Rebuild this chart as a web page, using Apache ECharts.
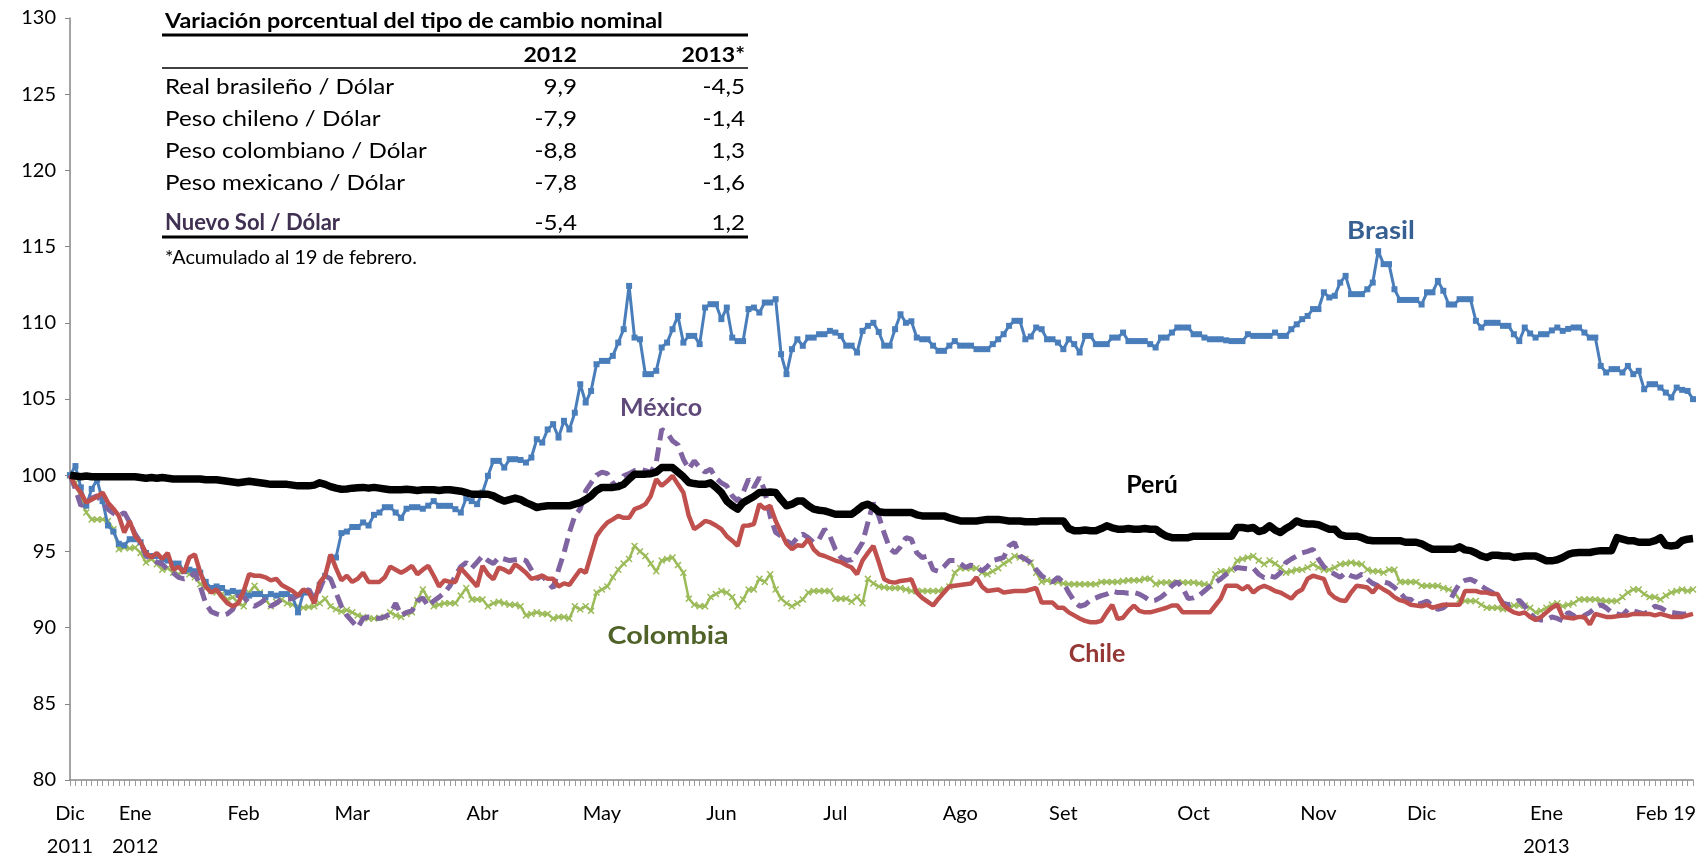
<!DOCTYPE html>
<html>
<head>
<meta charset="utf-8">
<script src="https://cdn.jsdelivr.net/npm/echarts/dist/echarts.min.js"></script>
<style>
html,body{margin:0;padding:0;background:#fff;}
#chart{width:1698px;height:857px;}
</style>
</head>
<body>
<div id="chart"></div>
<script>
// ---------- DATA ----------
const brasil = [
100.0,100.6,99.2,98.0,99.1,99.7,98.3,96.7,96.3,95.5,
95.4,95.8,95.8,95.6,94.9,94.7,94.7,94.5,94.4,94.2,
94.2,93.7,93.8,93.7,93.6,93.0,92.6,92.7,92.6,92.3,
92.4,92.3,92.3,92.1,92.2,92.2,92.0,92.2,92.1,92.2,
92.2,92.0,91.0,92.3,92.3,92.0,92.8,93.4,94.5,94.6,
96.2,96.3,96.6,96.6,96.9,96.7,97.4,97.55,97.9,97.9,
97.55,97.2,97.8,97.9,97.9,97.8,98.0,98.3,97.99,97.99,
97.99,97.77,97.55,98.5,98.3,98.1,98.86,99.96,100.94,100.94,
100.5,101.05,101.05,101.0,100.83,101.16,102.36,102.14,103.0,103.35,
102.47,103.57,103.0,104.1,105.97,104.77,105.53,107.28,107.5,107.5,
107.83,108.7,109.58,112.42,109.03,108.92,106.63,106.63,106.85,108.38,
108.7,109.58,110.45,108.7,109.14,109.14,108.6,111.0,111.22,111.22,
110.24,111.0,109.03,108.8,108.8,110.9,111.0,110.67,111.33,111.33,
111.55,107.94,106.63,108.27,108.92,108.49,109.03,109.03,109.25,109.25,
109.47,109.36,109.14,108.5,108.5,108.05,109.47,109.8,110.0,109.4,
108.5,108.5,109.58,110.56,110.0,110.1,109.03,108.92,108.92,108.5,
108.16,108.16,108.5,108.8,108.5,108.5,108.5,108.27,108.27,108.27,
108.6,108.92,109.25,109.8,110.13,110.13,108.92,109.1,109.69,109.58,
108.92,108.92,108.7,108.27,108.92,108.6,108.05,109.14,109.14,108.6,
108.6,108.6,109.03,109.03,109.36,108.8,108.8,108.8,108.8,108.6,
108.38,109.03,109.03,109.36,109.69,109.69,109.69,109.25,109.25,109.03,
108.92,108.92,108.92,108.85,108.8,108.8,108.8,109.25,109.14,109.14,
109.14,109.14,109.36,109.14,109.14,109.58,109.9,110.24,110.45,110.9,
110.9,112.0,111.66,111.77,112.64,113.08,111.88,111.88,111.88,112.2,
112.64,114.7,113.85,113.85,112.2,111.5,111.5,111.5,111.5,111.2,
112.0,112.0,112.75,112.1,111.2,111.2,111.55,111.55,111.55,110.13,
109.69,110.0,110.0,110.0,109.8,109.8,109.25,108.8,109.69,109.3,
109.03,109.25,109.25,109.5,109.69,109.47,109.6,109.69,109.69,109.36,
109.03,109.03,107.17,106.74,106.96,106.96,106.74,107.17,106.63,106.85,
105.64,105.97,105.97,105.75,105.42,105.1,105.75,105.6,105.53,104.99
];
const chile = [
100.0,99.3,98.86,98.2,98.4,98.6,98.86,98.2,97.8,97.33,
96.24,97.0,96.0,95.6,94.9,94.6,94.9,94.5,94.9,93.8,
94.0,93.6,94.6,94.8,93.6,92.7,92.3,92.5,92.0,91.6,
91.4,91.6,92.4,93.5,93.4,93.4,93.3,93.1,93.2,92.8,
92.6,92.4,92.1,92.5,92.3,91.6,92.96,93.4,94.8,93.9,
93.1,93.4,93.0,93.2,93.6,93.0,93.0,93.0,93.3,94.0,
93.8,93.6,93.8,94.05,93.5,93.8,94.05,93.4,92.7,93.1,
93.0,93.0,93.9,93.5,93.1,92.7,94.05,93.5,93.17,93.94,
93.8,93.6,94.16,93.9,93.6,93.2,93.3,93.4,93.2,93.2,
92.7,92.9,92.8,93.3,93.8,93.6,94.8,96.0,96.5,96.9,
97.1,97.33,97.2,97.2,97.77,97.9,98.1,98.64,99.74,99.3,
99.6,99.96,99.4,98.86,97.33,96.46,96.7,97.0,96.9,96.7,
96.46,96.0,95.7,95.36,96.68,96.7,96.8,98.1,97.8,97.99,
97.0,96.24,95.5,95.14,95.4,95.36,95.8,95.14,94.8,94.7,
94.55,94.4,94.3,94.1,93.94,93.5,94.4,94.9,95.36,94.3,
93.17,93.0,92.95,93.06,93.1,93.17,92.3,91.95,91.7,91.45,
91.9,92.3,92.7,92.75,92.8,92.85,92.9,93.3,92.7,92.4,
92.45,92.5,92.3,92.35,92.4,92.4,92.4,92.5,92.6,91.64,
91.64,91.64,91.3,91.3,91.0,90.8,90.6,90.44,90.35,90.35,
90.44,91.0,91.5,90.57,90.65,91.1,91.45,91.1,91.0,91.0,
91.1,91.2,91.3,91.45,91.45,91.0,91.0,91.0,91.0,91.0,
91.0,91.45,91.9,92.74,92.74,92.74,92.5,92.74,92.3,92.6,
92.74,92.6,92.4,92.3,92.1,91.9,92.3,92.5,93.2,93.4,
93.3,93.2,92.3,91.97,91.8,91.75,92.3,92.74,92.7,92.63,
92.3,92.74,92.5,92.3,92.0,91.8,91.7,91.5,91.45,91.4,
91.5,91.3,91.4,91.5,91.5,91.5,91.5,92.4,92.4,92.4,
92.3,92.3,92.2,92.2,91.5,91.2,91.0,90.9,91.0,90.7,
90.5,90.7,91.0,91.3,91.5,90.7,90.65,90.6,90.7,90.7,
90.2,90.9,90.8,90.7,90.7,90.75,90.8,90.8,90.9,90.9,
90.9,90.9,90.8,90.9,90.8,90.7,90.7,90.7,90.8,90.9
];
const colombia = [
100.0,99.5,98.5,97.55,97.1,97.1,97.1,97.0,96.46,95.14,
95.25,95.2,95.25,94.9,94.27,94.5,94.16,93.8,93.9,93.6,
93.5,93.8,93.5,93.3,92.85,92.6,92.4,92.3,92.2,91.85,
92.0,91.6,91.4,92.3,92.74,92.3,91.85,91.4,91.7,91.85,
91.6,91.5,91.4,91.3,91.35,91.4,91.6,91.9,91.4,91.2,
91.05,91.15,91.0,90.8,90.7,90.6,90.6,90.65,90.7,91.0,
90.8,90.7,90.9,91.0,91.8,92.5,91.9,91.4,91.5,91.6,
91.6,91.6,92.1,92.6,91.85,91.85,91.85,91.4,91.6,91.7,
91.6,91.5,91.5,91.4,90.8,90.9,91.0,90.9,90.9,90.6,
90.7,90.7,90.6,91.4,91.2,91.4,91.1,92.3,92.5,92.7,
93.3,93.8,94.2,94.5,95.36,95.0,94.7,94.2,93.7,94.4,
94.5,94.6,94.1,93.6,91.9,91.5,91.4,91.4,92.0,92.2,
92.4,92.3,92.0,91.4,91.85,92.5,92.5,93.2,93.0,93.5,
92.5,91.9,91.6,91.4,91.6,91.85,92.3,92.4,92.4,92.4,
92.4,91.9,91.9,91.9,91.7,92.0,91.6,93.2,92.9,92.7,
92.65,92.6,92.6,92.6,92.5,92.4,92.4,92.4,92.4,92.4,
92.4,92.5,92.7,93.6,93.9,93.9,93.9,93.9,93.6,93.5,
93.7,93.9,94.2,94.4,94.7,94.6,94.5,94.27,93.6,93.0,
93.1,93.0,93.0,92.9,92.85,92.85,92.85,92.85,92.85,92.85,
93.0,93.0,93.0,93.0,93.05,93.1,93.1,93.1,93.2,93.2,
92.85,92.96,92.96,92.96,92.96,92.96,92.96,92.96,92.9,92.85,
92.74,93.5,93.7,93.7,93.8,94.4,94.5,94.6,94.7,94.4,
94.16,94.4,94.2,93.94,93.6,93.7,93.8,93.8,93.94,94.16,
93.94,93.8,93.8,93.94,94.16,94.2,94.27,94.2,94.16,93.8,
93.7,93.7,93.6,93.8,93.8,93.0,93.0,93.0,93.0,92.74,
92.74,92.74,92.74,92.6,92.5,92.3,91.85,91.75,91.75,91.75,
91.5,91.3,91.3,91.3,91.2,91.3,91.45,91.45,91.45,91.3,
91.0,91.1,91.3,91.5,91.6,91.4,91.5,91.6,91.85,91.85,
91.85,91.85,91.8,91.75,91.75,91.75,92.0,92.3,92.5,92.5,
92.2,92.0,92.0,91.85,92.1,92.3,92.4,92.5,92.4,92.5
];
const mexico = [
100.0,99.1,98.0,98.2,98.5,98.64,98.2,97.77,97.5,97.33,
97.55,96.9,96.13,95.6,94.7,94.5,94.3,94.16,93.8,93.6,
93.3,93.2,93.3,93.6,92.7,91.6,91.05,90.9,90.8,90.9,
91.2,92.07,92.0,91.6,91.4,91.6,91.85,91.4,91.6,91.85,
91.9,91.9,92.1,92.3,92.5,91.85,92.5,93.4,93.2,92.3,
91.4,90.8,90.4,90.0,90.6,90.7,90.65,90.6,90.7,90.9,
91.6,90.8,91.0,91.1,91.75,91.95,91.4,91.75,92.0,92.3,
92.74,93.4,94.0,94.27,93.9,94.3,94.7,94.4,94.2,94.6,
94.5,94.4,94.45,94.5,94.4,93.8,93.2,93.4,92.96,92.6,
93.8,94.9,96.24,97.33,97.8,98.97,99.5,100.0,100.2,100.1,
99.5,99.2,99.96,100.1,100.3,100.4,100.3,100.2,100.83,103.0,
102.8,102.25,102.0,101.05,100.4,100.94,100.5,100.2,100.4,99.8,
99.5,99.3,98.64,98.3,98.86,99.74,99.2,99.85,98.97,97.3,
96.24,96.0,95.7,95.47,95.9,96.13,95.9,95.58,95.8,96.46,
96.0,95.14,94.6,94.4,94.45,95.0,95.58,96.9,98.2,97.3,
96.2,95.2,94.9,95.3,95.9,95.8,94.9,94.6,94.7,93.8,
93.7,94.0,94.4,94.4,94.2,93.94,94.1,94.0,93.7,94.0,
94.4,94.5,94.6,95.36,95.58,94.7,94.5,94.27,93.8,93.4,
93.17,93.0,93.3,92.96,92.3,91.75,91.4,91.5,91.8,91.95,
92.1,92.2,92.4,92.3,92.3,92.25,92.3,92.2,92.0,91.75,
91.8,92.0,92.3,92.74,93.0,92.6,91.9,91.95,92.1,92.4,
92.7,92.96,93.2,93.5,93.7,93.94,93.9,93.85,93.9,93.5,
93.27,93.4,93.3,93.6,94.27,94.5,94.7,94.9,95.0,95.14,
94.5,94.0,93.7,93.5,93.3,93.6,93.4,93.3,93.5,93.17,
92.9,92.74,93.0,92.9,92.63,92.3,91.9,91.85,91.5,91.6,
91.75,91.4,91.2,91.3,91.6,92.3,92.9,93.1,93.17,93.0,
92.74,92.5,92.3,92.1,91.6,91.5,91.6,91.8,91.4,90.9,
90.6,90.5,90.5,90.7,90.6,90.44,91.0,90.8,90.44,90.8,
91.0,91.3,91.5,91.3,91.0,90.9,90.8,91.2,91.1,91.0,
90.9,91.1,91.4,91.3,91.1,91.0,90.95,90.9,90.9,90.85
];
const peru = [
100.0,99.95,99.9,99.95,99.9,99.9,99.9,99.9,99.9,99.9,
99.9,99.9,99.9,99.85,99.8,99.85,99.8,99.85,99.8,99.75,
99.75,99.75,99.75,99.75,99.75,99.7,99.7,99.7,99.65,99.6,
99.55,99.5,99.55,99.6,99.55,99.5,99.45,99.4,99.4,99.4,
99.4,99.35,99.3,99.3,99.3,99.35,99.5,99.4,99.25,99.15,
99.08,99.1,99.15,99.18,99.2,99.15,99.2,99.15,99.1,99.05,
99.04,99.05,99.08,99.05,99.0,99.04,99.04,99.04,99.0,99.04,
99.04,99.0,98.95,98.85,98.75,98.75,98.75,98.75,98.64,98.45,
98.3,98.4,98.5,98.4,98.2,98.05,97.88,97.95,97.99,97.99,
97.99,97.99,97.99,98.1,98.2,98.4,98.64,99.0,99.2,99.2,
99.2,99.25,99.4,99.74,100.07,100.07,100.07,100.1,100.2,100.5,
100.5,100.5,100.2,99.9,99.52,99.45,99.4,99.4,99.5,99.2,
98.86,98.3,98.0,97.77,98.2,98.4,98.6,98.86,98.86,98.9,
98.86,98.4,97.99,98.1,98.3,98.3,98.0,97.77,97.7,97.66,
97.55,97.44,97.44,97.44,97.44,97.7,97.99,98.1,97.9,97.6,
97.55,97.55,97.55,97.55,97.55,97.55,97.4,97.33,97.33,97.33,
97.33,97.33,97.2,97.1,97.0,97.0,97.0,97.0,97.05,97.1,
97.1,97.1,97.05,97.0,97.0,97.0,96.95,96.94,96.94,97.0,
97.0,97.0,97.0,97.0,96.5,96.35,96.35,96.4,96.35,96.35,
96.5,96.68,96.55,96.46,96.46,96.5,96.46,96.46,96.5,96.46,
96.46,96.2,96.0,95.9,95.9,95.9,95.9,96.0,96.0,96.0,
96.0,96.0,96.0,96.0,96.0,96.57,96.57,96.5,96.57,96.3,
96.4,96.68,96.4,96.24,96.5,96.7,97.0,96.85,96.8,96.8,
96.75,96.6,96.46,96.46,96.1,96.0,96.0,96.0,95.9,95.75,
95.7,95.7,95.7,95.7,95.7,95.7,95.6,95.6,95.6,95.5,
95.3,95.14,95.14,95.14,95.14,95.14,95.3,95.1,95.05,94.9,
94.7,94.6,94.75,94.75,94.7,94.7,94.6,94.65,94.7,94.7,
94.7,94.55,94.38,94.38,94.45,94.6,94.8,94.9,94.93,94.93,
94.93,95.0,95.05,95.05,95.05,95.9,95.8,95.7,95.7,95.6,
95.6,95.6,95.7,95.9,95.4,95.36,95.4,95.7,95.8,95.84
];

// x-axis tick labels: [category index, label]
const monthLabels = [
  [0,'Dic\n2011'],[12,'Ene\n2012'],[32,'Feb'],[52,'Mar'],[76,'Abr'],[98,'May'],
  [120,'Jun'],[141,'Jul'],[164,'Ago'],[183,'Set'],[207,'Oct'],[230,'Nov'],
  [249,'Dic'],[272,'Ene\n2013'],[294,'Feb 19']
];
const yTicks = [80,85,90,95,100,105,110,115,120,125,130];

// inset table
const tableTitle = 'Variación porcentual del tipo de cambio nominal';
const tableHeader = ['2012','2013*'];
const tableRows = [
  ['Real brasileño / Dólar','9,9','-4,5'],
  ['Peso chileno / Dólar','-7,9','-1,4'],
  ['Peso colombiano / Dólar','-8,8','1,3'],
  ['Peso mexicano / Dólar','-7,8','-1,6'],
  ['Nuevo Sol / Dólar','-5,4','1,2']
];
const tableNote = '*Acumulado al 19 de febrero.';

// series names / in-chart labels
const seriesNames = ['Brasil','Chile','Colombia','México','Perú'];

// ---------- CHART ----------
const FONT = 'Lato, "Open Sans", sans-serif';
const categories = peru.map((_, i) => String(i));
const labelMap = {};
monthLabels.forEach(([i, t]) => { labelMap[i] = t; });

const chart = echarts.init(document.getElementById('chart'), null, {renderer:'canvas'});

// graphic elements for the table
const g = [];
const tx1 = 165, tcol1 = 577, tcol2 = 745;
const SX = 1.1;
function txt(x, y, text, font, fill, align, sx) {
  g.push({type:'text', x:x, y:y, scaleX:sx, z:50,
    style:{text:text, font:font, fill:fill, align:align, verticalAlign:'middle'}});
}
txt(tx1, 21, tableTitle, 'bold 21px ' + FONT, '#000', 'left', 1.11);
g.push({type:'line', shape:{x1:162, y1:35, x2:748, y2:35}, style:{stroke:'#000', lineWidth:3}});
txt(tcol1, 55, tableHeader[0], 'bold 21px ' + FONT, '#000', 'right', SX);
txt(tcol2, 55, tableHeader[1], 'bold 21px ' + FONT, '#000', 'right', SX);
g.push({type:'line', shape:{x1:162, y1:68, x2:748, y2:68}, style:{stroke:'#000', lineWidth:1.5}});
const rowY = [87, 119, 151, 183, 223];
tableRows.forEach((r, k) => {
  const last = k === tableRows.length - 1;
  txt(tx1, rowY[k], r[0], (last ? 'bold ' : '') + '22px ' + FONT, last ? '#403152' : '#000', 'left', last ? 1.0 : SX);
  txt(tcol1, rowY[k], r[1], '22px ' + FONT, '#000', 'right', SX);
  txt(tcol2, rowY[k], r[2], '22px ' + FONT, '#000', 'right', SX);
});
g.push({type:'line', shape:{x1:162, y1:237, x2:748, y2:237}, style:{stroke:'#000', lineWidth:3}});
txt(tx1, 258, tableNote, '19px ' + FONT, '#000', 'left', 1.04);

// series name labels
const nameLabels = [
  {t:seriesNames[0], x:1381, y:231, c:'#376092', sx:1.1},
  {t:seriesNames[3], x:661, y:408, c:'#5F497A', sx:1.0},
  {t:seriesNames[4], x:1152, y:485, c:'#000000', sx:1.0},
  {t:seriesNames[2], x:668, y:636, c:'#4F6228', sx:1.15},
  {t:seriesNames[1], x:1097, y:654, c:'#953735', sx:1.0}
];
nameLabels.forEach(n => {
  g.push({type:'text', x:n.x, y:n.y, z:100, scaleX:n.sx, style:{text:n.t, font:'bold 25px ' + FONT, fill:n.c, align:'center', verticalAlign:'middle'}});
});

const xMark = 'path://M0,1.5 L1.5,0 L5,3.5 L8.5,0 L10,1.5 L6.5,5 L10,8.5 L8.5,10 L5,6.5 L1.5,10 L0,8.5 L3.5,5 Z';

const option = {
  animation: false,
  backgroundColor: '#fff',
  textStyle: {fontFamily: FONT},
  grid: {left:70, right:5, top:18, bottom:77, containLabel:false, outerBoundsMode:'none'},
  xAxis: {
    type:'category',
    data: categories,
    boundaryGap: false,
    axisLine: {show:true, lineStyle:{color:'#868686', width:1.5}},
    axisTick: {show:true, interval:0, length:6, lineStyle:{color:'#9a9a9a', width:1}},
    axisLabel: {
      interval: (idx) => labelMap[idx] !== undefined,
      formatter: (v, idx) => labelMap[idx] !== undefined ? labelMap[idx] : '',
      color:'#000', fontSize:20, fontFamily:FONT, lineHeight:33, margin:17, hideOverlap:false
    },
    splitLine: {show:false}
  },
  yAxis: {
    type:'value', min:yTicks[0], max:yTicks[yTicks.length-1], interval:5,
    axisLine: {show:true, lineStyle:{color:'#868686', width:1.5}},
    axisTick: {show:true, length:5, lineStyle:{color:'#868686'}},
    axisLabel: {color:'#000', fontSize:20, fontFamily:FONT, margin:14},
    splitLine: {show:false}
  },
  series: [
    {name:seriesNames[2], type:'line', data:colombia, z:2,
     symbol:xMark, symbolSize:7, showAllSymbol:true,
     itemStyle:{color:'#9BBB59'}, lineStyle:{color:'#9BBB59', width:2.5}},
    {name:seriesNames[0], type:'line', data:brasil, z:3,
     symbol:'rect', symbolSize:6, showAllSymbol:true,
     itemStyle:{color:'#4A7EBB'}, lineStyle:{color:'#4A7EBB', width:3}},
    {name:seriesNames[3], type:'line', data:mexico, z:4, symbol:'none',
     lineStyle:{color:'#8064A2', width:5, type:[14,7], cap:'butt'}},
    {name:seriesNames[1], type:'line', data:chile, z:5, symbol:'none',
     lineStyle:{color:'#C0504D', width:4.5}},
    {name:seriesNames[4], type:'line', data:peru, z:6, symbol:'none',
     lineStyle:{color:'#000000', width:7.5, join:'round'}}
  ],
  graphic: {elements: g}
};
chart.setOption(option);
</script>
</body>
</html>
